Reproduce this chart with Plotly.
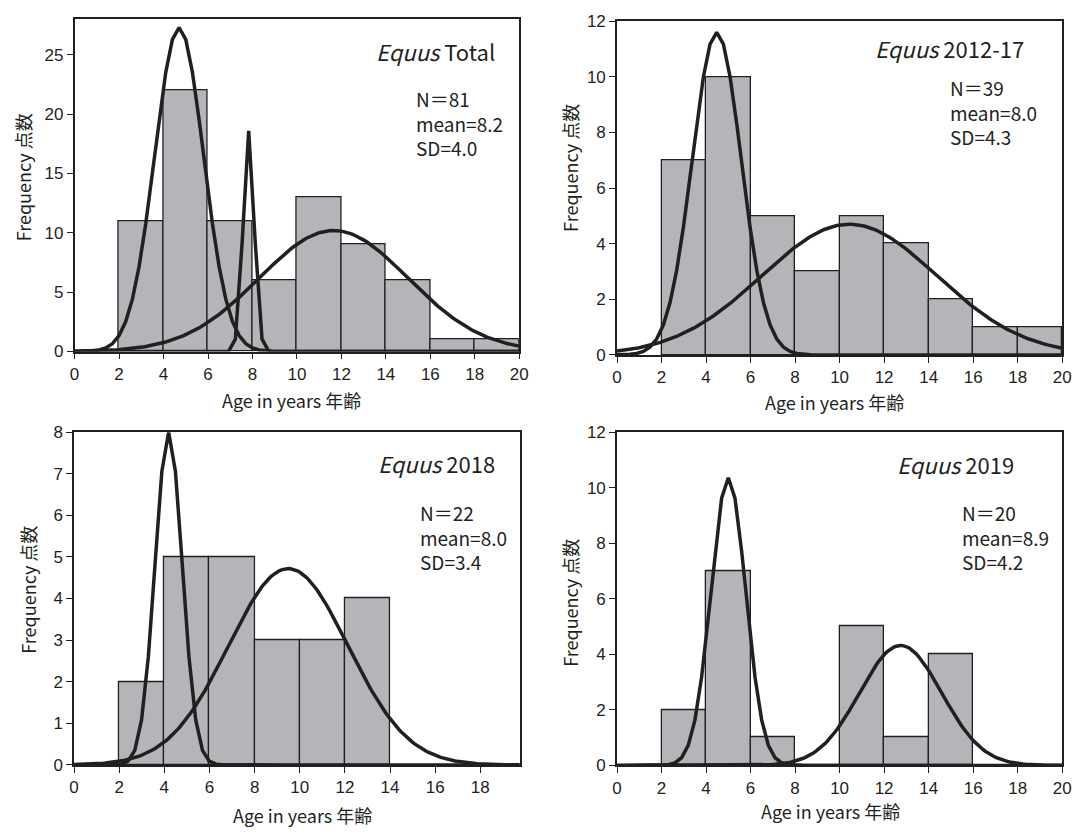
import numpy as np
import plotly.graph_objects as go

# ---------------- data ----------------
bin_left_total = [2, 4, 6, 8, 10, 12, 14, 16, 18]
counts_total = [11, 22, 11, 6, 13, 9, 6, 1, 1]
bin_left_2012_17 = [2, 4, 6, 8, 10, 12, 14, 16, 18]
counts_2012_17 = [7, 10, 5, 3, 5, 4, 2, 1, 1]
bin_left_2018 = [2, 4, 6, 8, 10, 12]
counts_2018 = [2, 5, 5, 3, 3, 4]
bin_left_2019 = [2, 4, 6, 8, 10, 12, 14]
counts_2019 = [2, 7, 1, 0, 5, 1, 4]

# fitted normal components (peak height, mean, sd)
peaks_total = [27.3, 18.6, 10.2]
means_total = [4.7, 7.83, 11.65]
sds_total = [1.1, 0.25, 3.35]
peaks_2012_17 = [11.6, 4.7]
means_2012_17 = [4.48, 10.44]
sds_2012_17 = [1.1, 3.93]
peaks_2018 = [8.0, 4.72]
means_2018 = [4.19, 9.49]
sds_2018 = [0.6, 2.65]
peaks_2019 = [10.36, 4.32]
means_2019 = [5.0, 12.74]
sds_2019 = [0.78, 1.84]

titles = ["Total", "2012-17", "2018", "2019"]
stat_n = ["N\uff1d81", "N\uff1d39", "N\uff1d22", "N\uff1d20"]
stat_mean = ["mean=8.2", "mean=8.0", "mean=8.0", "mean=8.9"]
stat_sd = ["SD=4.0", "SD=4.3", "SD=3.4", "SD=4.2"]
x_title = "Age in years 年齢"
y_title = "Frequency 点数"

# ---------------- layout geometry ----------------
W, H = 1086, 836
INK = "#231f20"
BAR = "#b4b5b9"

panels = [
    dict(lefts=bin_left_total, counts=counts_total, peaks=peaks_total, means=means_total, sds=sds_total,
         xr=[0, 20], yr=[0, 28], yt=list(range(0, 26, 5)), xt=list(range(0, 21, 2)),
         px=(70.5, 521), py=(10.5, 350.5)),
    dict(lefts=bin_left_2012_17, counts=counts_2012_17, peaks=peaks_2012_17, means=means_2012_17, sds=sds_2012_17,
         xr=[0, 20], yr=[0, 12], yt=list(range(0, 13, 2)), xt=list(range(0, 21, 2)),
         px=(620, 1071), py=(12.5, 354)),
    dict(lefts=bin_left_2018, counts=counts_2018, peaks=peaks_2018, means=means_2018, sds=sds_2018,
         xr=[0, 19.75], yr=[0, 8], yt=list(range(0, 9, 1)), xt=list(range(0, 19, 2)),
         px=(70, 521.5), py=(433, 773.5)),
    dict(lefts=bin_left_2019, counts=counts_2019, peaks=peaks_2019, means=means_2019, sds=sds_2019,
         xr=[0, 20], yr=[0, 12], yt=list(range(0, 13, 2)), xt=list(range(0, 21, 2)),
         px=(620, 1071), py=(433, 774)),
]

title_pos = [(436, 43), (957, 40), (437, 465), (963, 466)]
stat_pos = [(414, 117), (955, 105.5), (418, 540), (967, 540)]
xtitle_pos = [(290, 400), (840, 402), (301, 825), (836, 821)]
ytitle_pos = [(18.5, 172), (573, 163), (22.5, 594), (573, 608)]


def fx(p):
    return p / W


def fy(p):
    return 1 - p / H


fig = go.Figure()
annotations = []

for i, P in enumerate(panels):
    k = "" if i == 0 else str(i + 1)
    xa, ya = "x" + k, "y" + k
    centers = [l + 1 for l in P["lefts"]]
    fig.add_trace(go.Bar(
        x=centers, y=P["counts"], width=2,
        marker=dict(color=BAR, line=dict(color=INK, width=1.3)),
        xaxis=xa, yaxis=ya, showlegend=False, hoverinfo="skip"))
    for pk, mu, sd in zip(P["peaks"], P["means"], P["sds"]):
        step = 0.3 if sd < 1.5 else 0.1
        kmin = int(np.floor((P["xr"][0] - mu) / step))
        kmax = int(np.ceil((P["xr"][1] - mu) / step))
        xs = mu + step * np.arange(kmin, kmax + 1)
        xs = np.unique(np.clip(xs, P["xr"][0], P["xr"][1]))
        ys = pk * np.exp(-0.5 * ((xs - mu) / sd) ** 2)
        fig.add_trace(go.Scatter(
            x=xs, y=ys, mode="lines",
            line=dict(color=INK, width=3.5),
            xaxis=xa, yaxis=ya, showlegend=False, hoverinfo="skip",
            cliponaxis=False))

    axis_common = dict(showline=True, linecolor=INK, linewidth=1.6, mirror=True,
                       ticks="outside", ticklen=6, tickwidth=1.4, tickcolor=INK,
                       showgrid=False, zeroline=False,
                       tickfont=dict(family="Liberation Sans, Arial, sans-serif", size=17, color=INK))
    fig.layout["xaxis" + k] = dict(
        domain=[fx(P["px"][0]), fx(P["px"][1])], range=P["xr"], anchor=ya,
        tickvals=P["xt"], **axis_common)
    fig.layout["yaxis" + k] = dict(
        domain=[fy(P["py"][1]), fy(P["py"][0])], range=P["yr"], anchor=xa,
        tickvals=P["yt"], **axis_common)

    tx, ty = title_pos[i]
    annotations.append(dict(
        x=fx(tx), y=fy(ty), xref="paper", yref="paper", xanchor="center", yanchor="middle",
        text="<i>Equus</i> " + titles[i], showarrow=False,
        font=dict(family="Noto Sans CJK JP", size=22, color=INK)))
    sx, sy = stat_pos[i]
    annotations.append(dict(
        x=fx(sx), y=fy(sy), xref="paper", yref="paper", xanchor="left", yanchor="middle",
        align="left",
        text="<br>".join([stat_n[i], stat_mean[i], stat_sd[i]]), showarrow=False,
        font=dict(family="Noto Sans CJK JP", size=19, color=INK)))
    ax_, ay_ = xtitle_pos[i]
    annotations.append(dict(
        x=fx(ax_), y=fy(ay_), xref="paper", yref="paper", xanchor="center", yanchor="middle",
        text=x_title, showarrow=False,
        font=dict(family="Noto Sans CJK JP", size=18, color=INK)))
    bx, by = ytitle_pos[i]
    annotations.append(dict(
        x=fx(bx), y=fy(by), xref="paper", yref="paper", xanchor="center", yanchor="middle",
        text=y_title, showarrow=False, textangle=-90,
        font=dict(family="Noto Sans CJK JP", size=18, color=INK)))

fig.update_layout(
    width=W, height=H,
    margin=dict(l=0, r=0, t=0, b=0),
    paper_bgcolor="white", plot_bgcolor="white",
    annotations=annotations,
    bargap=0, showlegend=False,
)

fig.write_html("out.html")
